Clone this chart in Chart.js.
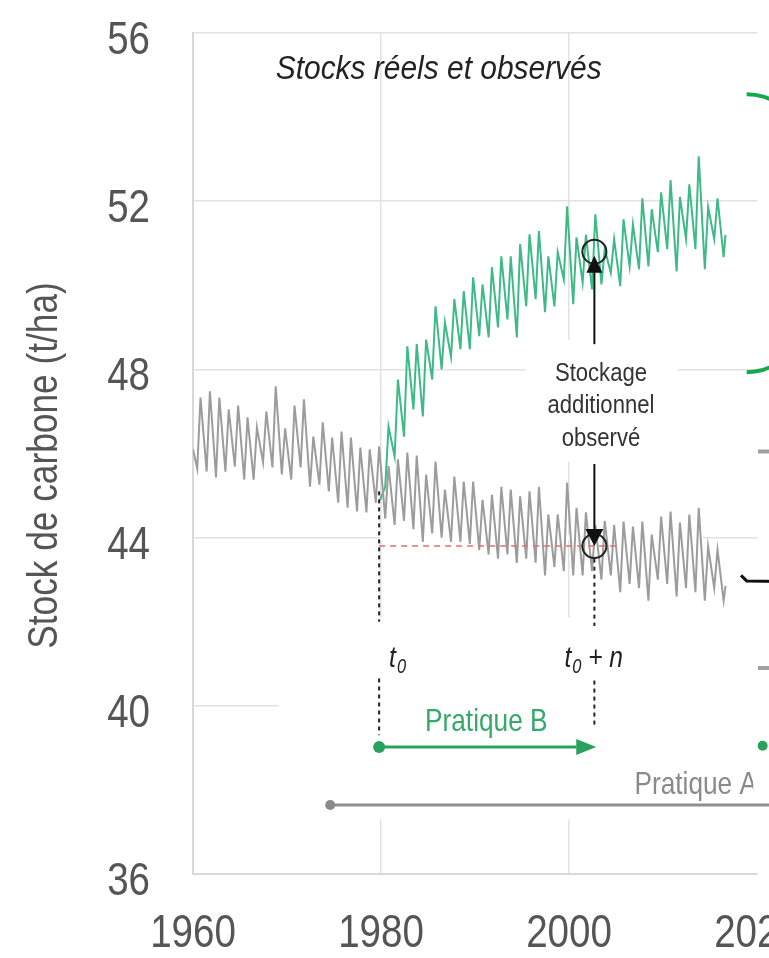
<!DOCTYPE html>
<html>
<head>
<meta charset="utf-8">
<script src="https://cdn.jsdelivr.net/npm/chart.js@4.4.1/dist/chart.umd.min.js"></script>
<style>
  html, body { margin: 0; padding: 0; background: #fff; overflow: hidden; }
  #wrap { width: 769px; height: 958px; overflow: hidden; }
</style>
</head>
<body>
<div id="wrap"><canvas id="stockChart" width="800" height="958"></canvas></div>
<script>
// yearly saw-tooth: low point mid-year, peak late in the year
const greyFirstYear = 1960;
const greyStart = 46.1;
const greyLow = [
  45.64, 45.57, 45.43, 45.57, 45.69, 45.38, 45.38, 45.79, 45.67, 45.5,
  45.38, 45.67, 45.21, 45.26, 45.1, 44.83, 44.71, 44.62, 44.6, 44.83,
  44.45, 44.3, 44.4, 44.2, 43.9, 44.1, 44.0, 43.9, 43.9, 43.85,
  43.7, 43.6, 43.5, 43.6, 43.4, 43.5, 43.4, 43.1, 43.3, 43.2,
  43.1, 43.1, 43.2, 43.0, 43.1, 42.7, 42.9, 42.8, 42.5, 43.0,
  42.9, 42.6, 42.8, 42.7, 42.5, 42.8, 42.5
];
const greyPeak = [
  47.33, 47.48, 47.33, 47.05, 47.14, 46.86, 46.62, 47.0, 47.6, 46.6,
  47.14, 47.29, 46.4, 46.74, 46.38, 46.52, 46.38, 46.14, 46.1, 46.17,
  45.7, 45.86, 46.02, 45.95, 45.5, 45.81, 45.14, 45.45, 45.33, 45.33,
  44.9, 45.02, 45.21, 45.14, 44.98, 45.1, 45.21, 44.55, 44.55, 45.31,
  44.71, 44.6, 44.3, 44.4, 44.3, 44.38, 44.26, 44.38, 44.07, 44.5,
  44.62, 44.36, 44.55, 44.71, 43.79, 43.71
];
const greyEnd = 42.85;

const greenFirstYear = 1980;
const greenStart = 44.9;
const greenLow = [
  45.2, 45.93, 46.4, 47.05, 46.88, 47.76, 48.0, 48.3, 48.48, 48.48,
  48.79, 48.76, 49.0, 49.19, 48.76, 49.5, 49.67, 49.36, 49.5, 50.14,
  49.55, 50.07, 49.9, 50.02, 50.3, 49.98, 50.45, 50.38, 50.45, 50.79,
  50.86, 50.33, 51.1, 50.86, 50.38, 51.1, 50.67
];
const greenPeak = [
  46.64, 47.76, 48.55, 48.6, 48.71, 49.5, 49.12, 49.67, 49.86, 50.19,
  50.02, 50.43, 50.69, 50.69, 50.98, 51.21, 51.29, 50.69, 50.79, 51.88,
  51.14, 51.2, 51.69, 50.86, 51.1, 51.57, 51.45, 52.07, 51.81, 52.21,
  52.5, 52.1, 52.4, 53.07, 51.86, 52.07
];
const greenEnd = 51.2;
const lastYear = 2016.65;

const xTicks = [1960, 1980, 2000, 2020];
const yTicks = [36, 40, 44, 48, 52, 56];
const yTitle = 'Stock de carbone (t/ha)';

// annotation anchors
const t0 = 1979.8;
const tn = 2002.7;
const obsGreen = 50.8;
const obsGrey = 43.8;

const FONT = '"Liberation Sans", Arial, sans-serif';

function sawtooth(firstYear, start, lows, peaks, end, startX) {
  const pts = [{ x: startX, y: start }];
  lows.forEach((v, i) => {
    pts.push({ x: firstYear + i + 0.45, y: v });
    if (i < peaks.length) pts.push({ x: firstYear + i + 0.8, y: peaks[i] });
  });
  pts.push({ x: lastYear, y: end });
  return pts;
}

const greyData = sawtooth(greyFirstYear, greyStart, greyLow, greyPeak, greyEnd, 1960);
const greenData = sawtooth(greenFirstYear, greenStart, greenLow, greenPeak, greenEnd, t0 + 0.1);

// condensed text: Arial metrics squeezed horizontally
function text(ctx, str, x, y, size, opts) {
  opts = opts || {};
  ctx.save();
  ctx.translate(x, y);
  if (opts.rotate) ctx.rotate(opts.rotate);
  ctx.scale(opts.sx || 0.82, 1);
  ctx.font = (opts.italic ? 'italic ' : '') + size + 'px ' + FONT;
  ctx.fillStyle = opts.color || '#333';
  ctx.textAlign = opts.align || 'left';
  ctx.textBaseline = 'alphabetic';
  ctx.fillText(str, 0, 0);
  const w = ctx.measureText(str).width * (opts.sx || 0.82);
  ctx.restore();
  return w;
}

function head(ctx, x, y, dx, dy, len, half) {
  const px = -dy, py = dx;
  ctx.beginPath();
  ctx.moveTo(x, y);
  ctx.lineTo(x - dx * len + px * half, y - dy * len + py * half);
  ctx.lineTo(x - dx * len - px * half, y - dy * len - py * half);
  ctx.closePath();
  ctx.fill();
}

function line(ctx, x1, y1, x2, y2) {
  ctx.beginPath();
  ctx.moveTo(x1, y1);
  ctx.lineTo(x2, y2);
  ctx.stroke();
}

const whiteBoxes = {
  id: 'whiteBoxes',
  beforeDatasetsDraw(chart) {
    const { ctx, scales: { x, y } } = chart;
    ctx.save();
    ctx.fillStyle = '#fff';
    ctx.fillRect(x.getPixelForValue(1995.4), y.getPixelForValue(48.7), x.getPixelForValue(2011.6) - x.getPixelForValue(1995.4), y.getPixelForValue(45.8) - y.getPixelForValue(48.7));
    ctx.fillRect(x.getPixelForValue(1979.9), y.getPixelForValue(44) - 3, x.getPixelForValue(2014.3) - x.getPixelForValue(1979.9), 6);
    ctx.fillRect(x.getPixelForValue(1969.1), y.getPixelForValue(42.1), 800, y.getPixelForValue(37.3) - y.getPixelForValue(42.1));
    ctx.restore();
  }
};

// axis labels drawn from the scales' own ticks
const axisText = {
  id: 'axisText',
  afterDraw(chart) {
    const { ctx, scales: { x, y }, chartArea } = chart;
    x.ticks.forEach(t => {
      text(ctx, String(t.value), x.getPixelForValue(t.value), 947, 47, { align: 'center', color: '#555' });
    });
    y.ticks.forEach(t => {
      text(ctx, String(t.value), chartArea.left - 43, y.getPixelForValue(t.value) + 21, 47, { align: 'right', color: '#555' });
    });
    text(ctx, yTitle, 57, (chartArea.top + chartArea.bottom) / 2 + 12, 43, { align: 'center', color: '#555', rotate: -Math.PI / 2 });
  }
};

const annotations = {
  id: 'annotations',
  afterDatasetsDraw(chart) {
    const { ctx, scales: { x, y } } = chart;
    const X = v => x.getPixelForValue(v);
    const Y = v => y.getPixelForValue(v);
    ctx.save();

    text(ctx, 'Stocks réels et observés', X(1968.8), Y(55.2) + 12, 34, { italic: true, sx: 0.88, color: '#222' });

    // reference level, red dashes
    ctx.strokeStyle = '#e07070';
    ctx.lineWidth = 1.5;
    ctx.setLineDash([6, 5]);
    line(ctx, X(t0), Y(obsGrey), X(2005.1), Y(obsGrey));

    // black dotted verticals
    ctx.strokeStyle = '#222';
    ctx.lineWidth = 2;
    ctx.setLineDash([4, 4]);
    line(ctx, X(t0), Y(45.1), X(t0), Y(42.0));
    line(ctx, X(t0), Y(40.65), X(t0), Y(39.3));
    line(ctx, X(tn), Y(43.5), X(tn), Y(41.9));
    line(ctx, X(tn), Y(40.6), X(tn), Y(39.5));
    ctx.setLineDash([]);

    // observed points
    ctx.beginPath(); ctx.arc(X(tn), Y(obsGreen), 12, 0, Math.PI * 2); ctx.stroke();
    ctx.beginPath(); ctx.arc(X(tn), Y(obsGrey), 12, 0, Math.PI * 2); ctx.stroke();

    ctx.fillStyle = '#111';
    ctx.strokeStyle = '#111';
    line(ctx, X(tn), Y(48.6), X(tn), Y(50.4));
    head(ctx, X(tn), Y(50.7), 0, -1, 17, 8);
    line(ctx, X(tn), Y(45.75), X(tn), Y(44.2));
    head(ctx, X(tn), Y(obsGrey), 0, 1, 17, 9);

    const cx = X(2003.4);
    text(ctx, 'Stockage', cx, Y(47.95) + 9, 26, { align: 'center', sx: 0.85 });
    text(ctx, 'additionnel', cx, Y(47.17) + 9, 26, { align: 'center', sx: 0.85 });
    text(ctx, 'observé', cx, Y(46.4) + 9, 26, { align: 'center', sx: 0.85 });

    // t0 and t0 + n
    const ly = Y(41.15) + 10;
    let w = text(ctx, 't', X(t0) + 10, ly, 30, { italic: true, color: '#222' });
    text(ctx, '0', X(t0) + 11 + w, ly + 6, 20, { italic: true, color: '#222' });
    const sx = X(tn) - 30;
    w = text(ctx, 't', sx, ly, 30, { italic: true, color: '#222' });
    const w0 = text(ctx, '0', sx + w + 1, ly + 6, 20, { italic: true, color: '#222' });
    text(ctx, ' + n', sx + w + w0 + 1, ly, 30, { italic: true, color: '#222' });

    // Pratique B
    ctx.strokeStyle = '#2aa25e';
    ctx.fillStyle = '#2aa25e';
    ctx.lineWidth = 3;
    line(ctx, X(t0), Y(39.02), X(2000.8), Y(39.02));
    head(ctx, X(2002.9), Y(39.02), 1, 0, 20, 8);
    ctx.beginPath(); ctx.arc(X(t0), Y(39.02), 6, 0, Math.PI * 2); ctx.fill();
    text(ctx, 'Pratique B', X(1991.2), Y(39.67) + 11, 32, { align: 'center', color: '#35a96a' });

    // Pratique A
    ctx.strokeStyle = '#8f8f8f';
    ctx.fillStyle = '#8a8a8a';
    line(ctx, X(1974.6), Y(37.64), 800, Y(37.64));
    ctx.beginPath(); ctx.arc(X(1974.6), Y(37.64), 5, 0, Math.PI * 2); ctx.fill();
    ctx.save();
    ctx.beginPath(); ctx.rect(0, 0, X(2019.6), 958); ctx.clip();
    text(ctx, 'Pratique A', X(2020.0), Y(38.17) + 11, 32, { align: 'right', color: '#8a8a8a' });
    ctx.restore();

    // pieces of the next panel showing at the right edge
    ctx.strokeStyle = '#17a84e';
    ctx.lineWidth = 4;
    ctx.beginPath();
    ctx.ellipse(X(2018.9), Y(51.24), 90, 139, 0, -Math.PI / 2, Math.PI / 2);
    ctx.stroke();
    ctx.strokeStyle = '#a0a0a0';
    line(ctx, X(2020.1), Y(46.05), 800, Y(46.05));
    line(ctx, X(2020.1), Y(40.9), 800, Y(40.9));
    ctx.strokeStyle = '#111';
    ctx.lineWidth = 3;
    ctx.beginPath();
    ctx.moveTo(X(2018.3), Y(43.1));
    ctx.lineTo(X(2018.9), Y(42.97));
    ctx.lineTo(800, Y(42.95));
    ctx.stroke();
    ctx.fillStyle = '#2aa25e';
    ctx.beginPath(); ctx.arc(X(2020.6), Y(39.05), 5, 0, Math.PI * 2); ctx.fill();

    ctx.restore();
  }
};

new Chart(document.getElementById('stockChart'), {
  type: 'line',
  data: {
    datasets: [
      {
        label: 'Pratique A',
        data: greyData,
        borderColor: '#9c9c9c',
        borderWidth: 2,
        pointRadius: 0,
        tension: 0,
        fill: false
      },
      {
        label: 'Pratique B',
        data: greenData,
        borderColor: '#3dba85',
        borderWidth: 2,
        pointRadius: 0,
        tension: 0,
        fill: false
      }
    ]
  },
  options: {
    responsive: false,
    animation: false,
    devicePixelRatio: 1,
    layout: { padding: { top: 33, right: 43, bottom: 0, left: 0 } },
    plugins: {
      legend: { display: false },
      tooltip: { enabled: false }
    },
    scales: {
      x: {
        type: 'linear',
        min: 1960,
        max: 2020,
        afterBuildTicks: scale => { scale.ticks = xTicks.map(v => ({ value: v })); },
        afterFit: scale => { scale.height = 84; },
        grid: {
          color: c => (c.tick && c.tick.value === 2020 ? 'rgba(0,0,0,0)' : '#e2e2e2'),
          lineWidth: 1.5,
          drawTicks: false
        },
        border: { color: '#d8d8d8', width: 2 },
        ticks: { display: false }
      },
      y: {
        min: 36,
        max: 56,
        afterBuildTicks: scale => { scale.ticks = yTicks.map(v => ({ value: v })); },
        afterFit: scale => { scale.width = 193; },
        grid: { color: '#e2e2e2', lineWidth: 1.5, drawTicks: false },
        border: { color: '#d8d8d8', width: 2 },
        ticks: { display: false }
      }
    }
  },
  plugins: [whiteBoxes, annotations, axisText]
});
</script>
</body>
</html>
